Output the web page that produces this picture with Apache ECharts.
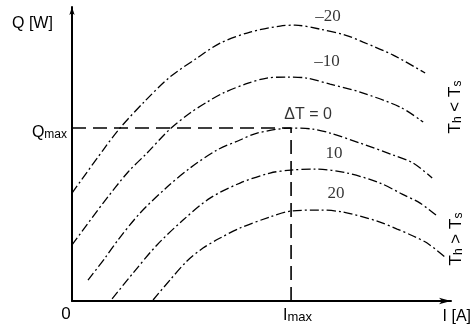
<!DOCTYPE html>
<html>
<head>
<meta charset="utf-8">
<script src="https://cdn.jsdelivr.net/npm/echarts@6/dist/echarts.min.js"></script>
<style>
  html, body { margin: 0; padding: 0; background: #fff; }
  #chart { width: 473px; height: 333px; }
</style>
</head>
<body>
<div id="chart"></div>
<script>
// I given in % of Imax, Q in % of Qmax
const curveM20 = [[0, 62.4], [14.2, 87.3], [21.9, 100], [33.3, 115.6], [44.7, 129.5], [57.1, 140.5], [67.6, 149.1], [81.3, 155.5], [95.0, 159.0], [101.8, 159.5], [113.2, 157.2], [124.7, 153.8], [132.9, 149.7], [146.6, 142.2], [161.2, 131.8]]
const curveM10 = [[0, 32.4], [14.2, 56.6], [25.6, 74.6], [34.2, 85.5], [44.7, 99.4], [53.9, 108.7], [61.6, 115.0], [68.9, 120.2], [80.4, 126.0], [89.0, 128.9], [98.2, 129.5], [107.3, 128.9], [117.8, 125.4], [131.5, 120.8], [149.8, 112.1], [160.3, 103.5]]
const curve0 = [[7.3, 12.1], [15.1, 24.9], [21.0, 35.3], [31.1, 50.9], [43.4, 65.9], [53.9, 76.9], [66.2, 87.3], [76.7, 93.1], [84.5, 97.1], [100, 100], [110.0, 99.4], [117.8, 97.1], [131.5, 91.3], [146.6, 84.4], [155.7, 79.8], [164.4, 71.1]]
const curveP10 = [[18.3, 1.2], [27.9, 16.2], [38.8, 32.4], [50.7, 46.8], [63.0, 59.5], [76.7, 68.2], [90.4, 74.0], [100, 75.7], [111.0, 76.3], [125.6, 74.0], [140.6, 68.2], [150.7, 61.8], [158.9, 56.6], [166.7, 49.1]]
const curveP20 = [[37.0, 0.6], [44.7, 12.1], [52.5, 23.1], [59.8, 30.6], [67.6, 36.4], [76.7, 42.2], [90.4, 48.6], [100, 52.0], [113.2, 52.6], [123.7, 51.4], [139.3, 46.2], [148.4, 41.6], [155.7, 37.6], [162.1, 33.5], [170.3, 25.4]]

// Qmax / Imax guide
const refLine = [[0, 100], [100, 100], [100, 0]]

// curve labels and where they sit
const curveNames = ['–20', '–10', 'ΔT = 0', '10', '20']
const labelPos = [[116.9, 164.2], [116.4, 138.2], [107.8, 107.5], [119.6, 85.5], [120.5, 62.4]]

const chart = echarts.init(document.getElementById('chart'))

const curveStyle = {
  color: '#000',
  width: 1.3,
  type: [9, 3, 2, 3]
}

function curve (data) {
  return {
    type: 'line',
    data: data,
    smooth: 0.3,
    showSymbol: false,
    lineStyle: curveStyle,
    silent: true
  }
}

const sans = 'Liberation Sans'
const serif = 'Liberation Serif'

const labelData = curveNames.map((name, i) => ({
  value: labelPos[i],
  label: {
    formatter: name,
    fontFamily: i === 2 ? sans : serif,
    fontSize: i === 2 ? 16 : 17
  }
}))

const option = {
  animation: false,
  backgroundColor: '#fff',
  grid: { left: 72, right: 22, top: 7, bottom: 32 },
  xAxis: {
    type: 'value',
    min: 0,
    max: 173,
    splitLine: { show: false },
    axisTick: { show: false },
    axisLabel: { show: false },
    axisLine: {
      lineStyle: { color: '#000', width: 2 },
      symbol: ['none', 'arrow'],
      symbolSize: [5, 12]
    }
  },
  yAxis: {
    type: 'value',
    min: 0,
    max: 170,
    splitLine: { show: false },
    axisTick: { show: false },
    axisLabel: { show: false },
    axisLine: {
      show: true,
      lineStyle: { color: '#000', width: 2 },
      symbol: ['none', 'arrow'],
      symbolSize: [4, 8]
    }
  },
  series: [
    curve(curveM20),
    curve(curveM10),
    curve(curve0),
    curve(curveP10),
    curve(curveP20),
    {
      type: 'line',
      data: refLine,
      showSymbol: false,
      lineStyle: { color: '#000', width: 1.6, type: [14, 7] },
      silent: true
    },
    {
      type: 'scatter',
      data: labelData,
      symbolSize: 1,
      itemStyle: { color: 'rgba(0,0,0,0)' },
      label: { show: true, position: 'inside', color: '#000' },
      silent: true
    }
  ],
  graphic: [
    {
      type: 'text', x: 12, y: 24,
      style: { text: 'Q [W]', font: '16px ' + sans, fill: '#000', verticalAlign: 'middle' }
    },
    {
      type: 'text', x: 67, y: 141,
      style: {
        text: '{a|Q}{b|max}', align: 'right', verticalAlign: 'bottom', fill: '#000',
        rich: {
          a: { fontSize: 16, fontFamily: sans, verticalAlign: 'bottom', lineHeight: 16 },
          b: { fontSize: 12, fontFamily: sans, verticalAlign: 'bottom', lineHeight: 13 }
        }
      }
    },
    {
      type: 'text', x: 66, y: 314,
      style: { text: '0', font: '17px ' + sans, fill: '#000', align: 'center', verticalAlign: 'middle' }
    },
    {
      type: 'text', x: 283, y: 324,
      style: {
        text: '{a|I}{b|max}', align: 'left', verticalAlign: 'bottom', fill: '#000',
        rich: {
          a: { fontSize: 16, fontFamily: sans, verticalAlign: 'bottom', lineHeight: 16 },
          b: { fontSize: 13, fontFamily: sans, verticalAlign: 'bottom', lineHeight: 14 }
        }
      }
    },
    {
      type: 'text', x: 471, y: 317,
      style: { text: 'I [A]', font: '16px ' + sans, fill: '#000', align: 'right', verticalAlign: 'middle' }
    },
    {
      type: 'text', x: 455, y: 107, rotation: Math.PI / 2,
      style: {
        text: '{a|T}{b|h}{a| < T}{b|s}', align: 'center', verticalAlign: 'middle', fill: '#000',
        rich: {
          a: { fontSize: 17, fontFamily: sans, verticalAlign: 'bottom', lineHeight: 17 },
          b: { fontSize: 12, fontFamily: sans, verticalAlign: 'bottom', lineHeight: 13 }
        }
      }
    },
    {
      type: 'text', x: 456, y: 239, rotation: Math.PI / 2,
      style: {
        text: '{a|T}{b|h}{a| > T}{b|s}', align: 'center', verticalAlign: 'middle', fill: '#000',
        rich: {
          a: { fontSize: 17, fontFamily: sans, verticalAlign: 'bottom', lineHeight: 17 },
          b: { fontSize: 12, fontFamily: sans, verticalAlign: 'bottom', lineHeight: 13 }
        }
      }
    }
  ]
}

chart.setOption(option)
</script>
</body>
</html>
